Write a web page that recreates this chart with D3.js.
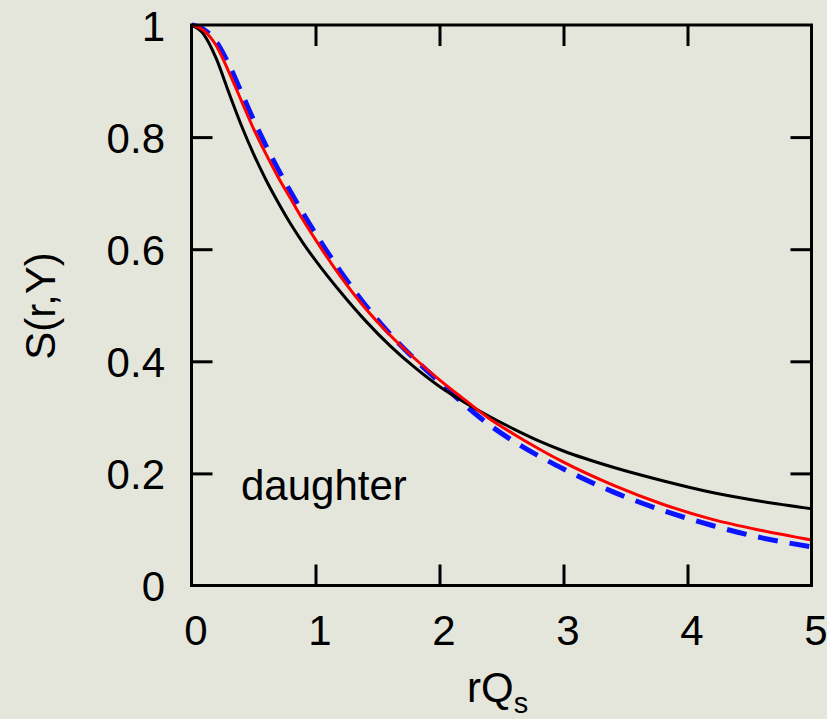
<!DOCTYPE html>
<html>
<head>
<meta charset="utf-8">
<script src="https://cdn.jsdelivr.net/npm/d3@7"></script>
<style>
  html, body { margin: 0; padding: 0; background: #e4e6dc; }
  svg { display: block; }
  text { font-family: "Liberation Sans", Arial, Helvetica, sans-serif; fill: #000; }
</style>
</head>
<body>
<svg id="chart" width="827" height="719"></svg>
<script>
// ---- data ----
const xValues     = [0, 0.1, 0.2, 0.3, 0.4, 0.5, 0.6, 0.7, 0.8, 0.9, 1.0, 1.2, 1.4, 1.6, 1.8, 2.0, 2.2, 2.4, 2.6, 2.8, 3.0, 3.4, 3.8, 4.2, 4.6, 5.0];
const blackValues = [1, 0.983, 0.94, 0.88, 0.822, 0.77, 0.724, 0.683, 0.645, 0.611, 0.58, 0.524, 0.473, 0.428, 0.389, 0.355, 0.327, 0.302, 0.279, 0.258, 0.24, 0.211, 0.187, 0.166, 0.15, 0.137];
const redValues   = [1, 0.99, 0.963, 0.917, 0.866, 0.815, 0.77, 0.728, 0.69, 0.652, 0.617, 0.552, 0.495, 0.447, 0.405, 0.367, 0.332, 0.298, 0.27, 0.244, 0.22, 0.179, 0.145, 0.118, 0.098, 0.081];
const blueValues  = [1, 0.992, 0.97, 0.93, 0.881, 0.831, 0.785, 0.742, 0.702, 0.664, 0.628, 0.561, 0.501, 0.449, 0.404, 0.363, 0.323, 0.287, 0.257, 0.231, 0.208, 0.167, 0.134, 0.107, 0.085, 0.069];
const xTicks = [0, 1, 2, 3, 4, 5];
const yTicks = [0, 0.2, 0.4, 0.6, 0.8, 1];
const xTickLabels = ["0", "1", "2", "3", "4", "5"];
const yTickLabels = ["0", "0.2", "0.4", "0.6", "0.8", "1"];
const annotation = "daughter";

// ---- layout ----
const svg = d3.select("#chart");
const plotL = 191.5, plotR = 811.5, plotT = 25, plotB = 585.5;
const x = d3.scaleLinear().domain([0, 5]).range([plotL, plotR]);
const y = d3.scaleLinear().domain([0, 1]).range([plotB, plotT]);
const fs = 42;
const tickLen = 21;

// ---- curves ----
const line = d3.line().x(d => x(d[0])).y(d => y(d[1])).curve(d3.curveMonotoneX);
const series = [
  { values: blueValues,  color: "#0a14ff", width: 5, dash: "20,12" },
  { values: blackValues, color: "#000000", width: 3, dash: null },
  { values: redValues,   color: "#ff0000", width: 3, dash: null }
];
const g = svg.append("g");
series.forEach(s => {
  g.append("path")
    .datum(xValues.map((xv, i) => [xv, s.values[i]]))
    .attr("d", line)
    .attr("fill", "none")
    .attr("stroke", s.color)
    .attr("stroke-width", s.width)
    .attr("stroke-dasharray", s.dash)
    .attr("stroke-linejoin", "round");
});

// ---- axes (ticks inward on all four sides) ----
const axStyle = sel => {
  sel.select(".domain").remove();
  sel.selectAll(".tick line").attr("stroke", "#000").attr("stroke-width", 3);
};
svg.append("g").attr("transform", `translate(0,${plotB})`)
  .call(d3.axisTop(x).tickValues(xTicks.slice(1, -1)).tickSize(tickLen).tickFormat(""))
  .call(axStyle);
svg.append("g").attr("transform", `translate(0,${plotT})`)
  .call(d3.axisBottom(x).tickValues(xTicks.slice(1, -1)).tickSize(tickLen).tickFormat(""))
  .call(axStyle);
svg.append("g").attr("transform", `translate(${plotL},0)`)
  .call(d3.axisRight(y).tickValues(yTicks.slice(1, -1)).tickSize(tickLen).tickFormat(""))
  .call(axStyle);
svg.append("g").attr("transform", `translate(${plotR},0)`)
  .call(d3.axisLeft(y).tickValues(yTicks.slice(1, -1)).tickSize(tickLen).tickFormat(""))
  .call(axStyle);

// frame
svg.append("rect")
  .attr("x", plotL).attr("y", plotT)
  .attr("width", plotR - plotL).attr("height", plotB - plotT)
  .attr("fill", "none").attr("stroke", "#000").attr("stroke-width", 3);

// tick labels
svg.append("g").selectAll("text").data(xTicks).join("text")
  .attr("x", d => x(d) + 4.5).attr("y", 645)
  .attr("text-anchor", "middle").attr("font-size", fs)
  .text((d, i) => xTickLabels[i]);
svg.append("g").selectAll("text").data(yTicks).join("text")
  .attr("x", 165).attr("y", d => y(d) + 15.5)
  .attr("text-anchor", "end").attr("font-size", fs)
  .text((d, i) => yTickLabels[i]);

// axis titles
const xt = svg.append("text").attr("x", 467).attr("y", 702).attr("font-size", fs);
xt.append("tspan").text("rQ");
xt.append("tspan").attr("font-size", 29).attr("dy", 11).text("s");

svg.append("text")
  .attr("transform", "translate(55,306) rotate(-90)")
  .attr("text-anchor", "middle").attr("font-size", fs)
  .text("S(r,Y)");

// annotation
svg.append("text").attr("x", 241).attr("y", 500).attr("font-size", fs).text(annotation);
</script>
</body>
</html>
